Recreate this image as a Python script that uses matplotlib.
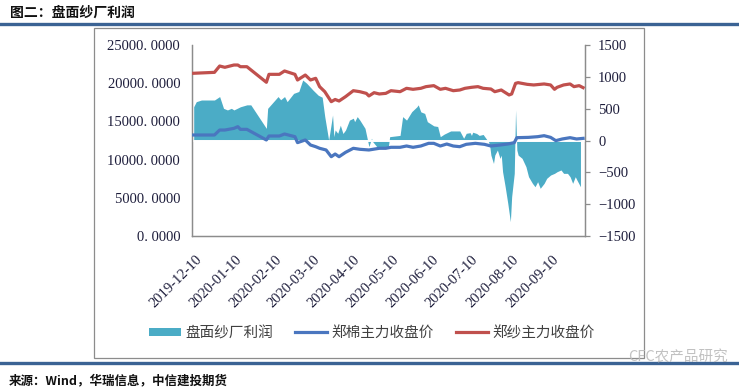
import matplotlib
matplotlib.use('Agg')
import matplotlib.pyplot as plt
import matplotlib.dates as mdates
from matplotlib.patches import Rectangle, Patch
from matplotlib.lines import Line2D
import pandas as pd

plt.rcParams['font.family'] = ['Noto Sans CJK SC', 'DejaVu Sans']

# 盘面纱厂利润 (right axis)
profit_dates = ['2019-12-09', '2019-12-11', '2019-12-15', '2019-12-25', '2019-12-29',
                '2020-01-01', '2020-01-04', '2020-01-07', '2020-01-09', '2020-01-14',
                '2020-01-19', '2020-01-22', '2020-02-03', '2020-02-04', '2020-02-12',
                '2020-02-14', '2020-02-17', '2020-02-19', '2020-02-24', '2020-02-28',
                '2020-03-02', '2020-03-05', '2020-03-10', '2020-03-14', '2020-03-17',
                '2020-03-19', '2020-03-22', '2020-03-25', '2020-03-26', '2020-03-27',
                '2020-03-29', '2020-03-31', '2020-04-02', '2020-04-04', '2020-04-07',
                '2020-04-10', '2020-04-11', '2020-04-13', '2020-04-15', '2020-04-19',
                '2020-04-21', '2020-04-22', '2020-04-24', '2020-04-25', '2020-04-28',
                '2020-05-07', '2020-05-08', '2020-05-16', '2020-05-18', '2020-05-21',
                '2020-05-25', '2020-05-29', '2020-05-30', '2020-06-01', '2020-06-04',
                '2020-06-06', '2020-06-11', '2020-06-14', '2020-06-16', '2020-06-19',
                '2020-06-24', '2020-06-26', '2020-07-01', '2020-07-04', '2020-07-06',
                '2020-07-09', '2020-07-10', '2020-07-11', '2020-07-14', '2020-07-16',
                '2020-07-19', '2020-07-22', '2020-07-23', '2020-07-24', '2020-07-25',
                '2020-07-27', '2020-07-28', '2020-07-30', '2020-08-01', '2020-08-02',
                '2020-08-03', '2020-08-05', '2020-08-07', '2020-08-09', '2020-08-10',
                '2020-08-12', '2020-08-13', '2020-08-14', '2020-08-15', '2020-08-18',
                '2020-08-21', '2020-08-23', '2020-08-26', '2020-08-28', '2020-08-30',
                '2020-09-01', '2020-09-04', '2020-09-06', '2020-09-09', '2020-09-12',
                '2020-09-14', '2020-09-17', '2020-09-19', '2020-09-22', '2020-09-24',
                '2020-09-26', '2020-09-28', '2020-09-29', '2020-10-02']
profit = [530, 610, 636, 636, 690,
          505, 480, 505, 480, 530,
          560, 560, 190, 505, 690,
          640, 690, 610, 740, 770,
          950, 900, 790, 710, 680,
          374, 5, 400, 60, 165,
          113, 240, 110, 165, 320,
          350, 296, 375, 320, 191,
          0, -97, 34, -20, -95,
          -95, 60, 80, 375, 320,
          453, 530, 560, 450, 425,
          296, 230, 220, 60, 100,
          150, 150, 150, 35, 113,
          123, 80, 130, 110, 80,
          95, 10, -10, -70, -230,
          -360, -228, -150, -280, -230,
          -490, -726, -987, -1275, -882,
          -516, 479, -150, -230, -280,
          -411, -569, -673, -726, -647,
          -751, -673, -594, -542, -516,
          -490, -463, -516, -516, -569,
          -673, -569, -610, -726]

# 郑纱主力收盘价 (left axis)
yarn_dates = ['2019-12-09', '2019-12-25', '2019-12-29', '2020-01-02', '2020-01-09',
              '2020-01-12', '2020-01-14', '2020-01-19', '2020-02-03', '2020-02-05',
              '2020-02-13', '2020-02-17', '2020-02-25', '2020-02-27', '2020-03-04',
              '2020-03-08', '2020-03-12', '2020-03-15', '2020-03-19', '2020-03-24',
              '2020-03-27', '2020-03-30', '2020-04-04', '2020-04-10', '2020-04-15',
              '2020-04-20', '2020-04-22', '2020-04-26', '2020-04-30', '2020-05-05',
              '2020-05-09', '2020-05-16', '2020-05-21', '2020-05-26', '2020-06-01',
              '2020-06-05', '2020-06-11', '2020-06-16', '2020-06-20', '2020-06-26',
              '2020-07-01', '2020-07-05', '2020-07-10', '2020-07-15', '2020-07-19',
              '2020-07-25', '2020-07-28', '2020-08-02', '2020-08-04', '2020-08-08',
              '2020-08-10', '2020-08-13', '2020-08-15', '2020-08-22', '2020-08-27',
              '2020-09-04', '2020-09-09', '2020-09-12', '2020-09-14', '2020-09-19',
              '2020-09-24', '2020-09-27', '2020-10-01', '2020-10-04']
yarn = [21300, 21420, 22250, 22080, 22380,
        22380, 22160, 22160, 20120, 21160,
        21160, 21600, 21160, 20420, 21070,
        20420, 20640, 19550, 18890, 17580,
        17870, 17670, 18240, 19020, 18890,
        18670, 18330, 18760, 18590, 18670,
        19020, 18890, 19330, 19200, 19330,
        19550, 19680, 19200, 19330, 19020,
        19110, 19330, 19460, 19550, 19330,
        19240, 18890, 19110, 18890, 18460,
        18590, 19980, 20070, 19850, 19770,
        19900, 19770, 19200, 19460, 19770,
        19900, 19550, 19680, 19420]

# 郑棉主力收盘价 (left axis)
cotton_dates = ['2019-12-09', '2019-12-25', '2019-12-29', '2020-01-02', '2020-01-09',
                '2020-01-12', '2020-01-14', '2020-01-19', '2020-02-03', '2020-02-05',
                '2020-02-13', '2020-02-17', '2020-02-25', '2020-02-27', '2020-03-04',
                '2020-03-08', '2020-03-12', '2020-03-15', '2020-03-20', '2020-03-24',
                '2020-03-27', '2020-03-30', '2020-04-04', '2020-04-10', '2020-04-15',
                '2020-04-22', '2020-04-30', '2020-05-05', '2020-05-09', '2020-05-16',
                '2020-05-21', '2020-05-26', '2020-06-01', '2020-06-07', '2020-06-11',
                '2020-06-16', '2020-06-21', '2020-06-26', '2020-07-01', '2020-07-06',
                '2020-07-13', '2020-07-20', '2020-07-25', '2020-08-01', '2020-08-07',
                '2020-08-12', '2020-08-14', '2020-08-23', '2020-08-30', '2020-09-04',
                '2020-09-09', '2020-09-13', '2020-09-18', '2020-09-24', '2020-09-29',
                '2020-10-04']
cotton = [13220, 13220, 13870, 13870, 14090,
          14310, 13960, 13960, 12570, 13090,
          13090, 13350, 13000, 12220, 12570,
          11910, 11690, 11480, 11260, 10380,
          10730, 10380, 10950, 11480, 11350,
          11260, 11480, 11480, 11610, 11610,
          11780, 11610, 11780, 12130, 12130,
          11780, 12040, 11780, 11690, 12000,
          12130, 12000, 11780, 11910, 12040,
          12220, 12870, 12910, 13000, 13130,
          12910, 12480, 12700, 12870, 12700,
          12780]

left_ticks = [0, 5000, 10000, 15000, 20000, 25000]
right_ticks = [-1500, -1000, -500, 0, 500, 1000, 1500]
labels = ['盘面纱厂利润', '郑棉主力收盘价', '郑纱主力收盘价']

c_fill = '#4BACC6'
c_cotton = '#4A76BF'
c_yarn = '#C0504D'
c_band = '#3B6394'
c_spine = '#8C8C8C'
c_tick = '#1E1E3C'

fig = plt.figure(figsize=(7.39, 3.90), dpi=100)

# header / footer decoration
fig.text(10 / 739, 1 - 12.5 / 390, '图二：盘面纱厂利润', fontsize=10, fontweight='bold',
         color='#111111', ha='left', va='center')
fig.add_artist(Line2D([0, 1], [1 - 24 / 390] * 2, color=c_band, lw=2.4))
fig.add_artist(Line2D([0, 1], [1 - 363 / 390] * 2, color=c_band, lw=2.4))
fig.add_artist(Rectangle((94 / 739, 1 - 358 / 390), 550 / 739, 330 / 390,
                         fill=False, edgecolor=c_spine, lw=0.9))
fig.text(9 / 739, 1 - 381 / 390, '来源：Wind，华瑞信息，中信建投期货', fontsize=9,
         fontweight='bold', color='#111111', ha='left', va='center')
fig.text(628 / 739, 1 - 357 / 390, 'CFC农产品研究', fontsize=10.5, color='#BBBBBB',
         ha='left', va='center', alpha=0.9)

ax = fig.add_axes([192 / 739, 1 - 236 / 390, 393 / 739, 191 / 390])
ax2 = ax.twinx()

pd_dates = pd.to_datetime(profit_dates)
ax.fill_between(pd_dates, profit, 0, color=c_fill, lw=0, zorder=2)
ax.axhline(0, color='white', lw=1.4, zorder=3)
ax.set_ylim(-1500, 1500)
ax.set_yticks(right_ticks)
ax.yaxis.tick_right()
ax.set_yticklabels([f'{v:.0f}'.replace('-', '\u2212') for v in right_ticks],
                   family='Liberation Serif', fontsize=10.5, color=c_tick)
ax.tick_params(axis='y', direction='out', length=3.5, width=0.9, color=c_spine, pad=6)

ax2.plot(pd.to_datetime(cotton_dates), cotton, color=c_cotton, lw=2.3, zorder=4)
ax2.plot(pd.to_datetime(yarn_dates), yarn, color=c_yarn, lw=2.3, zorder=4)
ax2.set_ylim(0, 25000)
ax2.set_yticks(left_ticks)
ax2.yaxis.tick_left()
ax2.set_yticklabels([f'{v:.4f}'.replace('.', '. ') for v in left_ticks],
                    family='Liberation Serif', fontsize=10.5, color=c_tick)
ax2.tick_params(axis='y', length=0, pad=8.5)

x0 = mdates.date2num(pd.Timestamp('2019-12-10'))
ax.set_xlim(x0 - 2.3, x0 + 300.5)
ax.xaxis.set_major_locator(mdates.MonthLocator(bymonthday=10))
ax.xaxis.set_major_formatter(mdates.DateFormatter('%Y-%m-%d'))
ax.tick_params(axis='x', length=0, pad=12)
for lab in ax.get_xticklabels():
    lab.set_rotation(45)
    lab.set_ha('right')
    lab.set_va('top')
    lab.set_rotation_mode('anchor')
    lab.set_family('Liberation Serif')
    lab.set_fontsize(10.5)
    lab.set_color(c_tick)

for a in (ax, ax2):
    a.spines['top'].set_visible(False)
    for s in ('left', 'right', 'bottom'):
        a.spines[s].set_color(c_spine)
        a.spines[s].set_linewidth(0.9)

handles = [Patch(facecolor=c_fill, edgecolor='none'),
           Line2D([], [], color=c_cotton, lw=2.3),
           Line2D([], [], color=c_yarn, lw=2.3)]
fig.legend(handles, labels, loc='center', bbox_to_anchor=(372 / 739, 1 - 333 / 390),
           ncol=3, frameon=False, handlelength=2.2, handleheight=0.5,
           handletextpad=0.3, columnspacing=1.5,
           prop={'family': ['Noto Sans CJK SC', 'DejaVu Sans'], 'size': 10.5},
           labelcolor='#404040')

fig.savefig('out.png', dpi=100)
